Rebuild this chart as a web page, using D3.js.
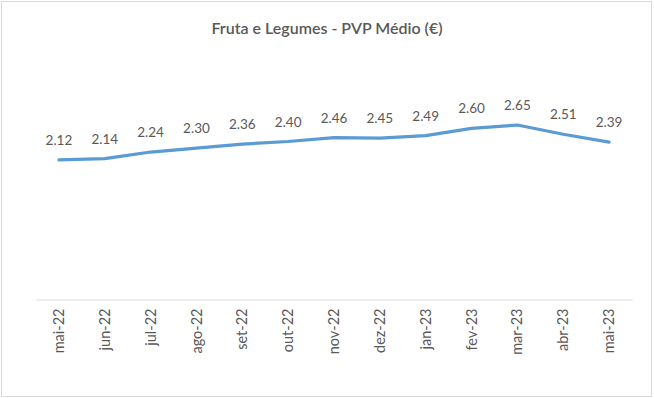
<!DOCTYPE html>
<html>
<head>
<meta charset="utf-8">
<script src="https://cdn.jsdelivr.net/npm/d3@7"></script>
<style>
  body { margin: 0; background: #fff; }
  svg text { font-family: Lato, "Open Sans", sans-serif; }
</style>
</head>
<body>
<div id="chart"></div>
<script>
// chart data
var months = ["mai-22", "jun-22", "jul-22", "ago-22", "set-22", "out-22", "nov-22",
  "dez-22", "jan-23", "fev-23", "mar-23", "abr-23", "mai-23"];
var prices = [2.12, 2.14, 2.24, 2.30, 2.36, 2.40, 2.46, 2.45, 2.49, 2.60, 2.65, 2.51, 2.39];
var yDomain = [0, 3];

var W = 654, H = 398;
var plot = { left: 36, right: 632, top: 102, bottom: 299.5 };

var svg = d3.select("#chart").append("svg")
  .attr("width", W).attr("height", H);

// outer frame
svg.append("rect")
  .attr("x", 1.5).attr("y", 1.5)
  .attr("width", W - 4).attr("height", H - 3)
  .attr("fill", "#fff").attr("stroke", "#d9d9d9").attr("stroke-width", 1);

svg.append("text")
  .attr("x", W / 2).attr("y", 34)
  .attr("text-anchor", "middle")
  .attr("fill", "#595959")
  .style("font-size", "16px").style("font-weight", "600")
  .text("Fruta e Legumes - PVP Médio (€)");

var x = d3.scaleBand().domain(months).range([plot.left, plot.right]);
var y = d3.scaleLinear().domain(yDomain).range([plot.bottom, plot.top]);

// category axis
var xAxis = svg.append("g")
  .attr("transform", "translate(0," + plot.bottom + ")")
  .call(d3.axisBottom(x).tickSize(0).tickPadding(0));
xAxis.select(".domain").attr("stroke", "#d9d9d9").attr("stroke-width", 1.2);
xAxis.selectAll("text")
  .attr("fill", "#595959")
  .style("font-size", "14.5px")
  .attr("text-anchor", "end")
  .attr("dy", "0.35em")
  .attr("transform", "translate(0,9) rotate(-90)")
  .attr("x", 0).attr("y", 0);

var line = d3.line()
  .x(function(d, i) { return x(months[i]) + x.bandwidth() / 2; })
  .y(function(d) { return y(d); });

svg.append("path")
  .datum(prices)
  .attr("d", line)
  .attr("fill", "none")
  .attr("stroke", "#5b9bd5")
  .attr("stroke-width", 3.2)
  .attr("stroke-linejoin", "round")
  .attr("stroke-linecap", "round");

// data labels
svg.selectAll(".lbl")
  .data(prices)
  .enter().append("text")
  .attr("class", "lbl")
  .attr("x", function(d, i) { return x(months[i]) + x.bandwidth() / 2; })
  .attr("y", function(d) { return y(d) - 15; })
  .attr("text-anchor", "middle")
  .attr("fill", "#595959")
  .style("font-size", "13.5px")
  .text(function(d) { return d.toFixed(2); });
</script>
</body>
</html>
